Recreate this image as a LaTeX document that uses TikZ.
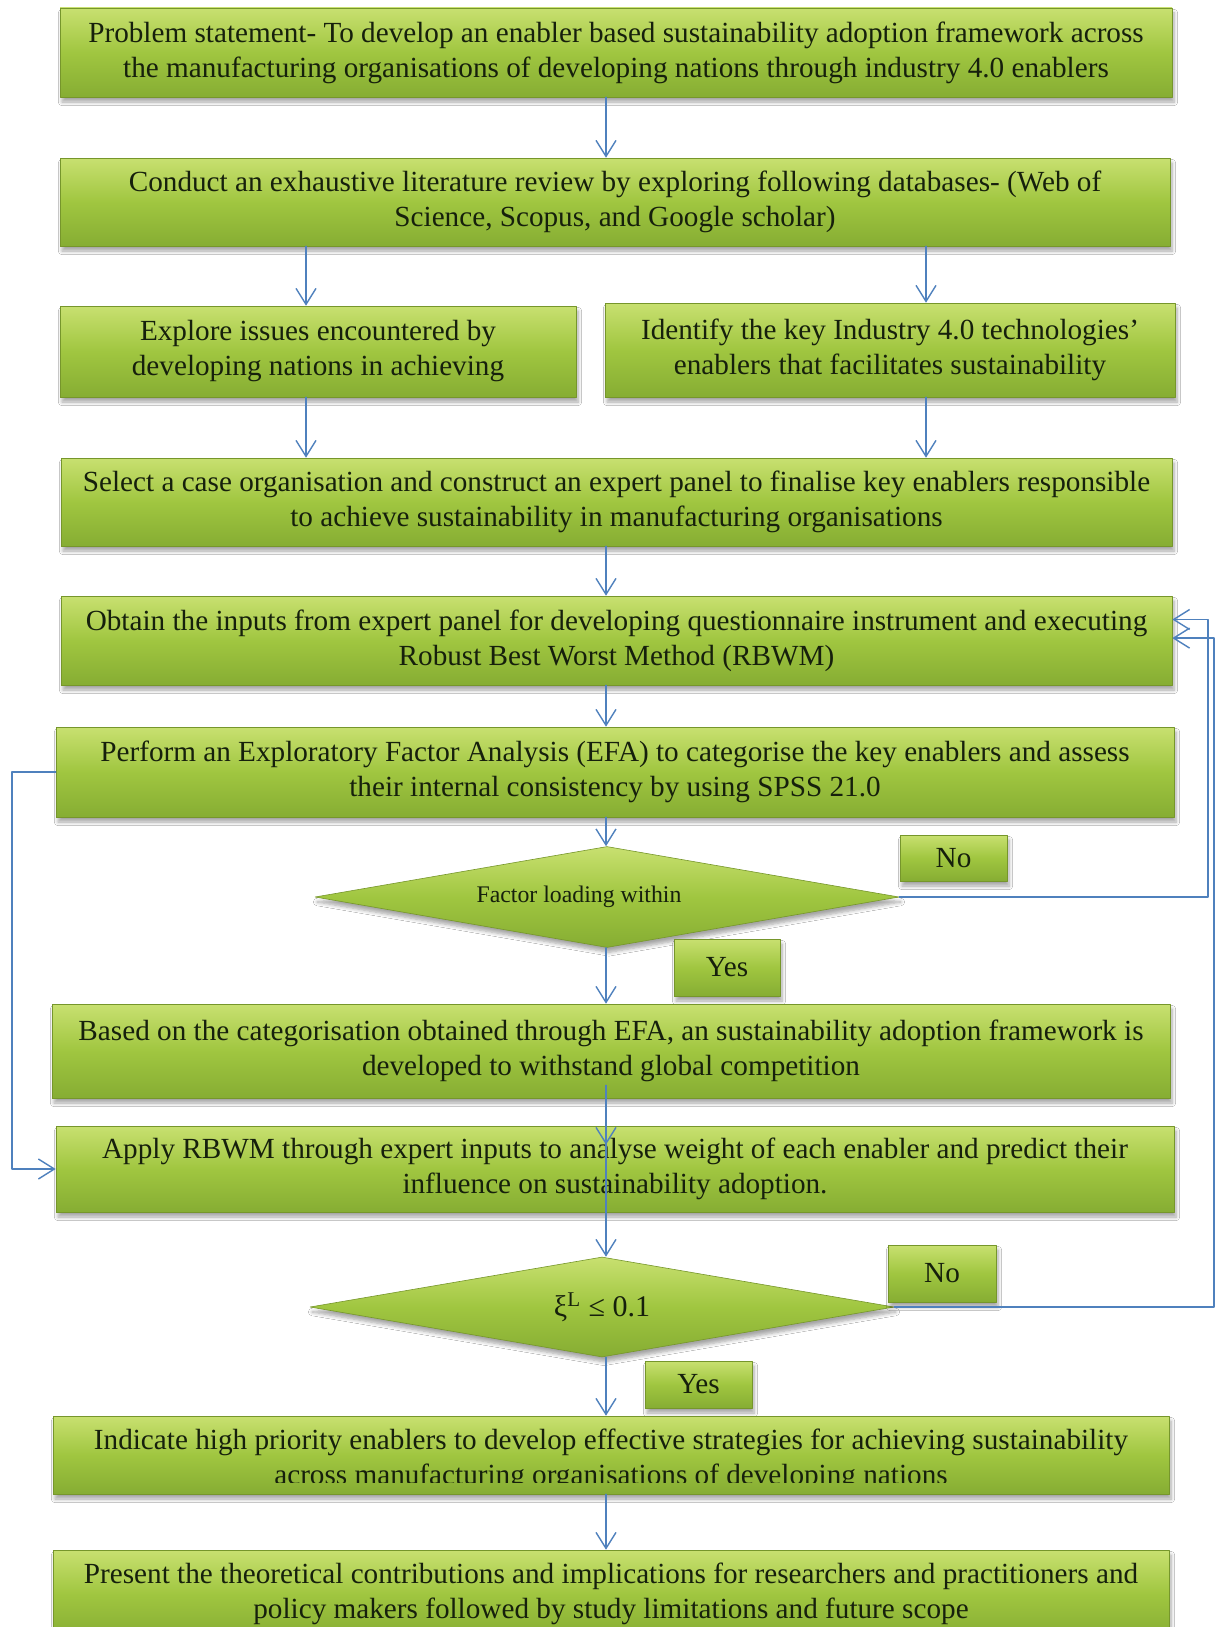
\documentclass[tikz,border=0pt]{standalone}
\usepackage{fontspec}
\setmainfont{Liberation Serif}
\usetikzlibrary{shapes.geometric,arrows.meta,shadows.blur,calc}
\definecolor{gtop}{HTML}{C8E070}
\definecolor{gmid}{HTML}{A0C640}
\definecolor{gbot}{HTML}{86AD33}
\definecolor{gline}{HTML}{76962B}
\definecolor{arrblue}{HTML}{4F81BD}
\definecolor{txt}{HTML}{16200C}

\begin{document}
\begin{tikzpicture}[x=0.5pt, y=-0.5pt, font=\fontsize{14.6}{17.5}\selectfont, line join=round, line cap=round,
		>={Straight Barb[length=8pt,width=10pt]},
		box/.style={rectangle, draw=gline, line width=0.3pt, top color=gtop, bottom color=gbot, middle color=gmid,
			text=txt, align=center, inner sep=0pt,
			blur shadow={shadow xshift=1pt, shadow yshift=-2.5pt, shadow blur steps=6, shadow opacity=35}},
		decision/.style={box, diamond, aspect=5.8},
		flow/.style={->, draw=arrblue, line width=0.7pt}]
			\path[use as bounding box, fill=white] (0,0) rectangle (1216,1627);
			\coordinate (spine) at (606,0);
			\coordinate (lcol) at (306,0);
			\coordinate (rcol) at (926,0);
			\coordinate (rloop) at (1208,0);
			\coordinate (rloopout) at (1214,0);
			\coordinate (lloop) at (12,0);
			% boxes
			\node[box, minimum width=556pt, minimum height=44.5pt] (prob) at (616,52.5) {Problem statement- To develop an enabler based sustainability adoption framework across\\the manufacturing organisations of developing nations through industry 4.0 enablers};
			\node[box, minimum width=555pt, minimum height=44pt] (lit) at (615,202) {Conduct an exhaustive literature review by exploring following databases- (Web of\\Science, Scopus, and Google scholar)};
			\node[box, minimum width=258pt, minimum height=45.5pt] (issues) at (318,351.5) {Explore issues encountered by\\developing nations in achieving};
			\node[box, minimum width=285pt, minimum height=47pt] (tech) at (890,350) {Identify the key Industry 4.0 technologies’\\enablers that facilitates sustainability};
			\node[box, minimum width=555.5pt, minimum height=44pt] (case) at (616.5,502) {Select a case organisation and construct an expert panel to finalise key enablers responsible\\to achieve sustainability in manufacturing organisations};
			\node[box, minimum width=555.5pt, minimum height=44.5pt] (inputs) at (616.5,640.5) {Obtain the inputs from expert panel for developing questionnaire instrument and executing\\Robust Best Worst Method (RBWM)};
			\node[box, minimum width=559pt, minimum height=45pt] (efa) at (615,772) {Perform an Exploratory Factor Analysis (EFA) to categorise the key enablers and assess\\their internal consistency by using SPSS 21.0};
			\node[decision, minimum width=292pt, minimum height=50.5pt, font=\fontsize{11.9}{13}\selectfont] (fl) at (607,897) {Factor loading within\hspace*{28pt}};
			\node[box, minimum width=53.5pt, minimum height=23pt] (no1) at (953.5,858) {No};
			\node[box, minimum width=53pt, minimum height=28.5pt] (yes1) at (727,967.5) {Yes};
			\node[box, minimum width=559pt, minimum height=47pt] (based) at (611,1051) {Based on the categorisation obtained through EFA, an sustainability adoption framework is\\developed to withstand global competition};
			\node[box, minimum width=559pt, minimum height=43pt] (apply) at (615,1169) {Apply RBWM through expert inputs to analyse weight of each enabler and predict their\\influence on sustainability adoption.};
			\node[decision, minimum width=292pt, minimum height=50pt, font=\fontsize{15}{17}\selectfont] (xi) at (602,1307) {ξ\textsuperscript{L} ≤ 0.1};
			\node[box, minimum width=54pt, minimum height=28.5pt] (no2) at (942,1273.5) {No};
			\node[box, minimum width=53.5pt, minimum height=23.5pt] (yes2) at (698.5,1384.5) {Yes};
			\node[box, minimum width=558pt, minimum height=39pt] (prio) at (611,1455) {};
			\begin{scope}
				\clip (prio.north west) rectangle ([yshift=6pt]prio.south east);
				\node[text=txt, align=center, inner sep=0pt] (priotext) at (611,1460) {Indicate high priority enablers to develop effective strategies for achieving sustainability\\across manufacturing organisations of developing nations};
			\end{scope}
			\node[box, minimum width=558pt, minimum height=44pt] (pres) at (611,1594) {Present the theoretical contributions and implications for researchers and practitioners and\\policy makers followed by study limitations and future scope};
			% connectors
			\draw[flow] (prob.south -| spine) -- (lit.north -| spine);
			\draw[flow] (lit.south -| lcol) -- (issues.north -| lcol);
			\draw[flow] (lit.south -| rcol) -- (tech.north -| rcol);
			\draw[flow] (issues.south -| lcol) -- (case.north -| lcol);
			\draw[flow] (tech.south -| rcol) -- (case.north -| rcol);
			\draw[flow] (case.south -| spine) -- (inputs.north -| spine);
			\draw[flow] (inputs.south -| spine) -- (efa.north -| spine);
			\draw[flow] (efa.south -| spine) -- (fl.north -| spine);
			\draw[flow] (fl.south -| spine) -- (based.north -| spine);
			\draw[flow] ($(based.south -| spine)+(0,-13)$) -- ($(apply.north -| spine)+(0,19)$);
			\draw[flow] ($(apply.north -| spine)+(0,14)$) -- (xi.north -| spine);
			\draw[flow] (xi.south -| spine) -- (prio.north -| spine);
			\draw[flow] (prio.south -| spine) -- (pres.north -| spine);
			% loops back
			\draw[flow] (fl.east) -- (fl.east -| rloop) |- ([yshift=10.5pt]inputs.east);
			\draw[flow] (xi.east) -- (xi.east -| rloopout) |- ([yshift=1.2pt]inputs.east);
			\draw[flow] (efa.west) -- (efa.west -| lloop) |- (apply.west);
\end{tikzpicture}
\end{document}
